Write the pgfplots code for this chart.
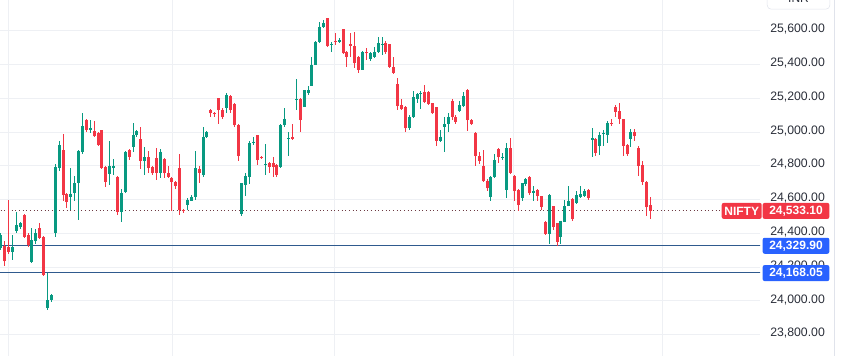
\documentclass[border=0pt]{standalone}
\usepackage{pgfplots}
\pgfplotsset{compat=1.18}
\usepackage{pgfplotstable}
\usepackage{fontspec}
\setmainfont{Liberation Sans}
\definecolor{cgreen}{HTML}{089981}
\definecolor{cred}{HTML}{F23645}
\definecolor{cblue}{HTML}{2962FF}
\definecolor{hline}{HTML}{2F5A8E}
\definecolor{gridc}{HTML}{EEF0F4}
\definecolor{tickc}{HTML}{2A2E39}
\definecolor{dotc}{HTML}{6E3B43}
\definecolor{sepc}{HTML}{E0E3EB}

\pgfplotstableread{
i o h l c
0 24313 24400 24300 24390
1 24323 24352 24204 24234
2 24320 24597 24275 24290
3 24292 24390 24245 24318
4 24414 24528 24405 24450
5 24440 24470 24428 24460
6 24509 24515 24370 24380
7 24393 24400 24320 24330
8 24232 24430 24222 24360
9 24352 24425 24340 24400
10 24430 24460 24370 24375
11 24380 24385 24150 24153
12 23956 24165 23945 24005
13 24005 24040 23995 24035
14 24400 24810 24380 24795
15 24785 24950 24770 24923
16 24894 24990 24590 24627
17 24633 24640 24553 24587
18 24617 24785 24540 24635
19 24637 24740 24590 24698
20 24698 24894 24480 24890
21 24884 25115 24870 25035
22 25070 25075 25000 25012
23 25012 25070 24994 25022
24 25005 25065 24970 24975
25 24994 25000 24915 24923
26 25010 25015 24785 24790
27 24795 24800 24675 24705
28 24750 24945 24685 24797
29 24790 24840 24745 24800
30 24735 24740 24508 24528
31 24528 24663 24470 24640
32 24647 24890 24640 24884
33 24894 24900 24835 24855
34 24913 25053 24884 24983
35 24980 25010 24970 25005
36 24957 25030 24780 24830
37 24830 24912 24745 24850
38 24850 24890 24760 24790
39 24795 24800 24745 24755
40 24845 24905 24715 24760
41 24760 24900 24725 24884
42 24838 24845 24725 24755
43 24755 24800 24730 24735
44 24725 24735 24534 24705
45 24705 24712 24660 24680
46 24785 24870 24510 24540
47 24540 24545 24520 24530
48 24568 24612 24540 24600
49 24594 24625 24590 24617
50 24617 24888 24600 24785
51 24779 24800 24700 24760
52 24745 25030 24735 24973
53 24970 25008 24965 25002
54 25130 25135 25090 25110
55 25113 25120 25090 25105
56 25200 25200 25045 25130
57 25130 25140 25080 25090
58 25140 25230 25115 25220
59 25213 25220 25115 25130
60 25166 25175 25030 25040
61 25040 25045 24830 24858
62 24515 24700 24500 24696
63 24686 24760 24620 24742
64 24735 24950 24690 24933
65 24933 24970 24925 24943
66 24983 24985 24805 24834
67 24850 24860 24840 24845
68 24802 24930 24745 24808
69 24815 24820 24755 24795
70 24818 24855 24735 24795
71 24805 24810 24735 24745
72 24795 25045 24790 25040
73 25040 25145 25030 25080
74 24960 25000 24860 24966
75 24970 25045 24955 24960
76 25190 25317 25130 25196
77 25195 25200 25002 25070
78 25150 25250 25148 25248
79 25230 25270 25220 25250
80 25273 25445 25270 25397
81 25397 25540 25395 25535
82 25535 25653 25525 25624
83 25624 25663 25614 25643
84 25673 25675 25505 25510
85 25515 25535 25475 25520
86 25540 25585 25515 25535
87 25535 25555 25528 25545
88 25608 25610 25460 25466
89 25476 25480 25387 25446
90 25520 25585 25446 25510
91 25510 25594 25377 25407
92 25446 25450 25347 25367
93 25367 25480 25365 25476
94 25476 25495 25427 25466
95 25430 25472 25420 25466
96 25443 25505 25440 25476
97 25472 25560 25470 25525
98 25518 25565 25455 25524
99 25528 25540 25465 25472
100 25520 25522 25377 25387
101 25383 25442 25347 25351
102 25284 25320 25130 25154
103 25160 25195 25130 25134
104 25150 25155 24998 25022
105 25022 25100 25015 25090
106 25090 25245 25085 25205
107 25195 25230 25170 25225
108 25225 25245 25135 25230
109 25240 25280 25175 25180
110 25240 25245 25160 25166
111 25170 25175 25105 25110
112 25146 25150 24915 24950
113 24950 25010 24940 24973
114 25032 25090 24884 25045
115 25048 25110 24998 25090
116 25185 25195 25070 25090
117 25090 25100 25050 25060
118 25127 25185 25120 25160
119 25152 25240 25148 25213
120 25250 25252 25005 25070
121 25070 25080 25045 25050
122 24993 25000 24800 24858
123 24858 24880 24810 24830
124 24800 24895 24706 24710
125 24712 24720 24650 24667
126 24614 24740 24590 24735
127 24732 24870 24725 24835
128 24898 24905 24814 24850
129 24850 24875 24835 24855
130 24657 24933 24610 24904
131 24904 24963 24755 24760
132 24740 24745 24590 24653
133 24657 24660 24535 24568
134 24607 24700 24590 24697
135 24690 24727 24680 24720
136 24732 24740 24630 24637
137 24637 24680 24590 24653
138 24657 24660 24590 24620
139 24620 24622 24540 24558
140 24470 24472 24390 24397
141 24397 24633 24340 24627
142 24563 24565 24420 24437
143 24460 24462 24323 24350
144 24380 24475 24335 24475
145 24470 24600 24468 24560
146 24563 24680 24560 24594
147 24603 24612 24475 24485
148 24580 24650 24575 24627
149 24617 24680 24612 24633
150 24620 24663 24615 24653
151 24657 24665 24600 24607
152 24955 25025 24855 24962
153 24957 24963 24860 24878
154 24917 25002 24864 24982
155 24988 25010 24915 24996
156 24982 25065 24935 25055
157 25055 25080 25035 25050
158 25150 25160 25090 25120
159 25127 25170 25050 25075
160 25075 25080 24860 24918
161 24923 24930 24860 24868
162 24957 25020 24914 25002
163 25002 25020 24945 24977
164 24908 24915 24740 24800
165 24805 24830 24686 24706
166 24706 24708 24500 24554
167 24568 24615 24483 24533.1
}\ohlc

\begin{document}
\begin{tikzpicture}
\path[use as bounding box] (0pt,0pt) rectangle (633pt,267pt);
\begin{axis}[
  at={(0pt,0pt)}, anchor=south west,
  scale only axis, width=570pt, height=267pt,
  xmin=-0.2, xmax=195.17, ymin=23674, ymax=25782,
  clip mode=individual,
  axis line style={draw=none},
  major tick length=0pt,
  xtick={2.1,44.2,85.9,131.9,170.2}, xticklabels={},
  ytick={23800,24000,...,25600},
  xmajorgrids, ymajorgrids,
  grid style={gridc, line width=0.75pt},
  yticklabel pos=right,
  scaled y ticks=false,
  yticklabel style={/pgf/number format/.cd, fixed, fixed zerofill, precision=2, 1000 sep={,}, assume math mode=true, /tikz/.cd, font=\fontsize{9.2}{10}\selectfont, text=tickc, anchor=west, inner sep=0pt, xshift=7.5pt, yshift=1pt},
]
% reference lines
\addplot[hline, line width=0.75pt, forget plot] coordinates {(-1,24329.9) (200,24329.9)};
\addplot[hline, line width=0.75pt, forget plot] coordinates {(-1,24168.05) (200,24168.05)};
\addplot[dotc, line width=0.75pt, dotted, forget plot] coordinates {(-1,24533.1) (185.4,24533.1)};
% wicks
\addplot[draw=none, no marks, forget plot,
  error bars/.cd, y dir=both, y explicit, error mark=none,
  error bar style={line width=0.75pt, draw=cgreen}]
  table[x=i, y expr={\thisrow{c}>=\thisrow{o} ? \thisrow{c} : nan},
        y error plus expr={\thisrow{h}-\thisrow{c}},
        y error minus expr={\thisrow{c}-\thisrow{l}}] {\ohlc};
\addplot[draw=none, no marks, forget plot,
  error bars/.cd, y dir=both, y explicit, error mark=none,
  error bar style={line width=0.75pt, draw=cred}]
  table[x=i, y expr={\thisrow{c}<\thisrow{o} ? \thisrow{c} : nan},
        y error plus expr={\thisrow{h}-\thisrow{c}},
        y error minus expr={\thisrow{c}-\thisrow{l}}] {\ohlc};
% bodies
\addplot[draw=none, no marks, forget plot,
  error bars/.cd, y dir=both, y explicit, error mark=none,
  error bar style={line width=2.25pt, draw=cgreen}]
  table[x=i, y expr={\thisrow{c}>=\thisrow{o} ? \thisrow{c} : nan},
        y error plus expr={0},
        y error minus expr={\thisrow{c}-\thisrow{o}}] {\ohlc};
\addplot[draw=none, no marks, forget plot,
  error bars/.cd, y dir=both, y explicit, error mark=none,
  error bar style={line width=2.25pt, draw=cred}]
  table[x=i, y expr={\thisrow{c}<\thisrow{o} ? \thisrow{c} : nan},
        y error plus expr={\thisrow{o}-\thisrow{c}},
        y error minus expr={0}] {\ohlc};
\coordinate (pN) at ({rel axis cs:1,0}|-{axis cs:0,24533.1});
\coordinate (pA) at ({rel axis cs:1,0}|-{axis cs:0,24329.9});
\coordinate (pB) at ({rel axis cs:1,0}|-{axis cs:0,24168.05});
\end{axis}
\tikzset{lab/.style={text=white, inner sep=0pt, rounded corners=1.5pt, minimum height=12pt, font=\bfseries\fontsize{9}{10}\selectfont}}
\node[lab, fill=cred, minimum width=30pt] at ([xshift=-13.7pt]pN) {NIFTY};
\node[lab, fill=cred, minimum width=50pt] at ([xshift=27pt]pN) {24,533.10};
\node[lab, fill=cblue, minimum width=50pt] at ([xshift=27pt,yshift=-0.4pt]pA) {24,329.90};
\node[lab, fill=cblue, minimum width=50pt] at ([xshift=27pt,yshift=-0.4pt]pB) {24,168.05};
\draw[sepc, line width=0.75pt] (625.5pt,0pt) -- (625.5pt,267pt);
\node[draw=sepc, rounded corners=3pt, minimum width=47pt, minimum height=16pt, anchor=south, inner sep=0pt, text=tickc, font=\fontsize{9}{10}\selectfont] at (598.9pt,259.9pt) {INR};
\end{tikzpicture}
\end{document}
